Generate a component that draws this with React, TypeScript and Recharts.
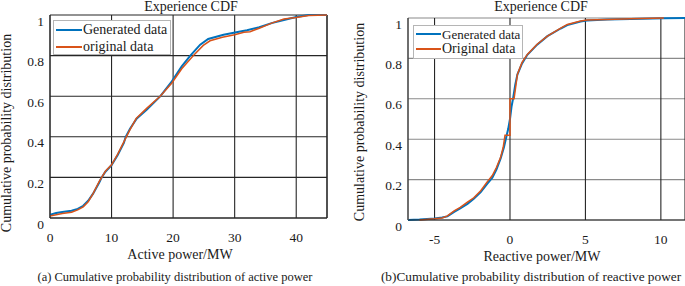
import React from 'react';
import { LineChart, Line, XAxis, YAxis, CartesianGrid, ReferenceLine } from 'recharts';

// (a) active power CDF, x in MW
const activeGenX = [0, 1, 2, 3.5, 4.5, 5.4, 6.2, 7, 8, 8.4, 9, 10, 11, 12, 12.3, 13, 14.1, 15.7, 17.9, 19.8, 21.4, 22.8, 24.4, 25.7, 28.2, 30.9, 32, 34, 36, 38, 40, 42, 45];
const activeGenY = [0.016, 0.025, 0.03, 0.036, 0.045, 0.06, 0.085, 0.12, 0.175, 0.2, 0.228, 0.26, 0.31, 0.37, 0.4, 0.44, 0.49, 0.533, 0.599, 0.673, 0.747, 0.8, 0.854, 0.882, 0.903, 0.919, 0.925, 0.94, 0.96, 0.975, 0.99, 1, 1];
const activeOrigX = [0, 2, 3.5, 4.5, 5.4, 6.2, 7, 8, 9, 10, 11, 12, 13, 14, 15.7, 17.9, 19.8, 21.4, 23.3, 24.9, 26, 28, 30, 31.5, 32.5, 34, 36, 38, 40, 42, 45];
const activeOrigY = [0.01, 0.022, 0.028, 0.04, 0.055, 0.08, 0.12, 0.18, 0.23, 0.262, 0.315, 0.375, 0.435, 0.49, 0.54, 0.6, 0.665, 0.735, 0.8, 0.85, 0.873, 0.89, 0.903, 0.915, 0.918, 0.935, 0.96, 0.98, 0.988, 0.998, 1];

// (b) reactive power CDF
const reactGenX = [-6.76, -6.0, -5, -4.5, -4.15, -3.7, -3.3, -2.82, -2.4, -1.94, -1.5, -1.17, -0.9, -0.62, -0.4, -0.28, -0.12, 0, 0.1, 0.2, 0.35, 0.49, 0.8, 1.15, 1.8, 2.48, 3.36, 3.8, 4.68, 5.1, 6.45, 8, 10.2, 11.6];
const reactGenY = [0, 0.002, 0.008, 0.012, 0.018, 0.04, 0.058, 0.08, 0.105, 0.138, 0.18, 0.21, 0.25, 0.305, 0.36, 0.4, 0.45, 0.5, 0.56, 0.6, 0.67, 0.72, 0.775, 0.818, 0.868, 0.91, 0.948, 0.965, 0.983, 0.988, 0.992, 0.995, 0.999, 1];
const reactOrigX = [-6.0, -5, -4.5, -4.15, -3.7, -3.3, -2.82, -2.4, -1.94, -1.5, -1.17, -0.9, -0.62, -0.45, -0.33, 0, 0, 0.27, 0.49, 0.8, 1.15, 1.8, 2.48, 3.36, 3.8, 4.68, 5.1, 6.45, 8, 10.2];
const reactOrigY = [0, 0.006, 0.01, 0.02, 0.045, 0.062, 0.088, 0.11, 0.145, 0.19, 0.22, 0.26, 0.31, 0.36, 0.42, 0.42, 0.6, 0.6, 0.72, 0.78, 0.82, 0.87, 0.91, 0.95, 0.968, 0.985, 0.99, 0.993, 0.996, 1];

const yTicks = [0, 0.2, 0.4, 0.6, 0.8, 1];
const activeTicks = [0, 10, 20, 30, 40];
const reactTicks = [-5, 0, 5, 10];

const BLUE = '#0072BD';
const ORANGE = '#D95319';
const FONT = '"Liberation Serif", "DejaVu Serif", serif';

const zip = (xs: number[], ys: number[]) => xs.map((x, i) => ({ x, y: ys[i] }));

const YTick = (props: any) => (
  <text x={props.x} y={props.y + 6} textAnchor="end" dominantBaseline="central" fontSize={13.5} style={{ fontFamily: FONT }} fill="#1a1a1a">
    {props.payload.value}
  </text>
);

const XTick = (props: any) => (
  <text x={props.x} y={props.y + 19} textAnchor="middle" dominantBaseline="central" fontSize={13.5} style={{ fontFamily: FONT }} fill="#1a1a1a">
    {props.payload.value}
  </text>
);

const Txt = ({ x, y, size, rotate, children }: any) => (
  <div
    style={{
      position: 'absolute',
      left: x,
      top: y,
      transform: `translate(-50%, -50%)${rotate ? ' rotate(-90deg)' : ''}`,
      fontSize: size,
      fontFamily: FONT,
      lineHeight: 1,
      whiteSpace: 'nowrap',
      color: '#1a1a1a',
    }}
  >
    {children}
  </div>
);

const LegendBox = ({ left, top, width, height, rows }: any) => (
  <div style={{ position: 'absolute', left, top, width, height, border: '1px solid #b5b5b5', background: '#fff', boxSizing: 'border-box' }}>
    {rows.map((r: any) => (
      <div key={r.label} style={{ position: 'absolute', left: 2, top: r.top, display: 'flex', alignItems: 'center', height: 16, marginTop: -8 }}>
        <div style={{ width: r.lineW, height: 2, background: r.color }} />
        <span style={{ fontSize: r.size, fontFamily: FONT, marginLeft: 1, lineHeight: 1, color: '#1a1a1a' }}>{r.label}</span>
      </div>
    ))}
  </div>
);

export default function App() {
  const genA = zip(activeGenX, activeGenY);
  const origA = zip(activeOrigX, activeOrigY);
  const genR = zip(reactGenX, reactGenY);
  const origR = zip(reactOrigX, reactOrigY);

  return (
    <div style={{ position: 'absolute', left: 0, top: 0, width: 685, height: 286, overflow: 'hidden', background: '#fff', fontFamily: FONT }}>
      {/* left chart */}
      <div style={{ position: 'absolute', left: 0, top: 0 }}>
        <LineChart width={340} height={286} margin={{ top: 15, right: 13, bottom: 38, left: 10 }}>
          <CartesianGrid stroke="#262626" strokeWidth={1.1} />
          <XAxis dataKey="x" type="number" domain={[0, 45]} ticks={activeTicks} allowDataOverflow tick={<XTick />} tickSize={0} tickMargin={0} height={30} axisLine={{ stroke: '#262626' }} />
          <YAxis type="number" domain={[0, 1]} ticks={yTicks} tick={<YTick />} tickSize={0} tickMargin={6} width={40} axisLine={{ stroke: '#262626' }} />
          <ReferenceLine x={45} stroke="#262626" strokeWidth={1.1} />
          <Line data={genA} dataKey="y" type="linear" stroke={BLUE} strokeWidth={2} dot={false} isAnimationActive={false} />
          <Line data={origA} dataKey="y" type="linear" stroke={ORANGE} strokeWidth={1.5} dot={false} isAnimationActive={false} />
        </LineChart>
      </div>

      {/* right chart */}
      <div style={{ position: 'absolute', left: 340, top: 0 }}>
        <LineChart width={345} height={286} margin={{ top: 18, right: 0, bottom: 36, left: 28 }}>
          <CartesianGrid vertical={false} stroke="#8a8a8a" strokeWidth={1.1} />
          <CartesianGrid horizontal={false} stroke="#262626" strokeWidth={1.1} />
          <XAxis dataKey="x" type="number" domain={[-6.76, 11.6]} ticks={reactTicks} allowDataOverflow tick={<XTick />} tickSize={0} tickMargin={0} height={30} axisLine={{ stroke: '#262626' }} />
          <YAxis type="number" domain={[0, 1]} ticks={yTicks} tick={<YTick />} tickSize={0} tickMargin={6} width={40} axisLine={{ stroke: '#555' }} />
          <Line data={genR} dataKey="y" type="linear" stroke={BLUE} strokeWidth={2} dot={false} isAnimationActive={false} />
          <Line data={origR} dataKey="y" type="linear" stroke={ORANGE} strokeWidth={1.5} dot={false} isAnimationActive={false} />
        </LineChart>
      </div>

      <Txt x={191} y={7} size={14}>Experience CDF</Txt>
      <Txt x={541} y={7} size={14}>Experience CDF</Txt>

      <Txt x={7} y={133} size={14} rotate>Cumulative probability distribution</Txt>
      <Txt x={360} y={122} size={14} rotate>Cumulative probability distribution</Txt>

      <Txt x={180} y={255} size={14}>Active power/MW</Txt>
      <Txt x={542} y={257} size={14}>Reactive power/MW</Txt>

      <Txt x={175} y={277} size={12.5}>(a) Cumulative probability distribution of active power</Txt>
      <Txt x={531} y={277} size={13.3}>(b)Cumulative probability distribution of reactive power</Txt>

      <LegendBox
        left={53}
        top={20}
        width={118}
        height={35}
        rows={[
          { label: 'Generated data', color: BLUE, top: 9, size: 14, lineW: 26 },
          { label: 'original data', color: ORANGE, top: 26, size: 14, lineW: 26 },
        ]}
      />
      <LegendBox
        left={413}
        top={25}
        width={110}
        height={34}
        rows={[
          { label: 'Generated data', color: BLUE, top: 8, size: 13, lineW: 25 },
          { label: 'Original data', color: ORANGE, top: 23, size: 14, lineW: 25 },
        ]}
      />
    </div>
  );
}
